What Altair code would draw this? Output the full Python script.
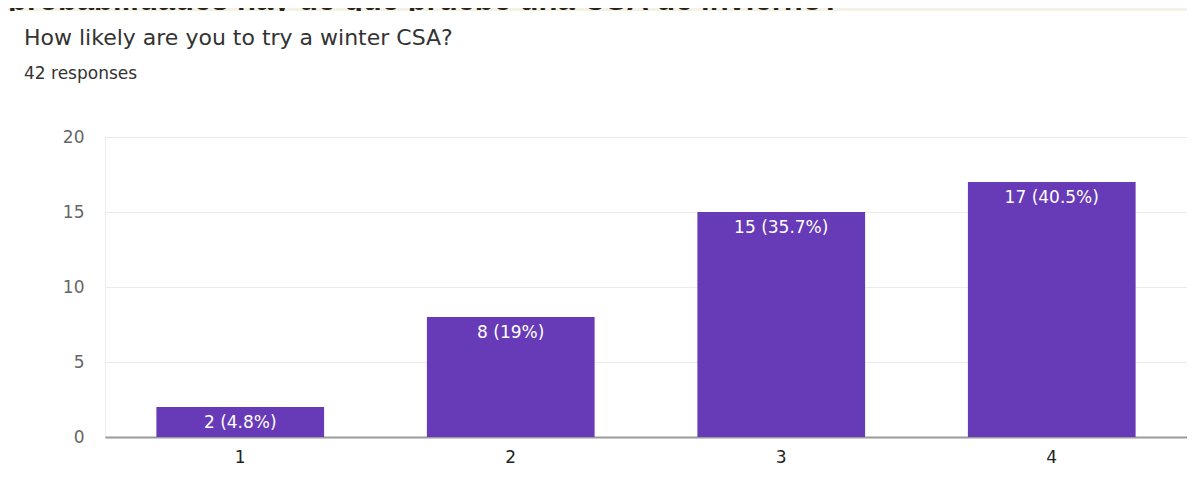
import altair as alt
import pandas as pd

categories = ["1", "2", "3", "4"]
counts = [2, 8, 15, 17]
bar_labels = ["2 (4.8%)", "8 (19%)", "15 (35.7%)", "17 (40.5%)"]
y_ticks = [0, 2.5, 5, 7.5, 10, 12.5, 15, 17.5, 20]
question_es = ["probabilidades hay de que pruebe una CSA de invierno?"]
title_text = ["How likely are you to try a winter CSA?"]
subtitle_text = ["42 responses"]

df = pd.DataFrame({"cat": categories, "count": counts, "label": bar_labels})
hdr = pd.DataFrame({"t": question_es})
ttl = pd.DataFrame({"t": title_text})
sub = pd.DataFrame({"t": subtitle_text})

PURPLE = "#673ab7"
BEIGE = "#f4f1e6"
FONT = "DejaVu Sans"
W, H = 1082, 300
PL, PT, PR, PB = 97, 129, 0, 30

x_enc = alt.X(
    "cat:N",
    sort=categories,
    scale=alt.Scale(paddingInner=0.38, paddingOuter=0.19),
    axis=alt.Axis(
        title=None, labelAngle=0, ticks=False, domain=True,
        domainColor="#9a9a9a", domainWidth=2, labelPadding=12,
        labelFont=FONT, labelFontSize=17, labelColor="#222222", grid=False,
    ),
)
y_enc = alt.Y(
    "count:Q",
    scale=alt.Scale(domain=[0, 20], nice=False),
    axis=alt.Axis(
        title=None, values=y_ticks, ticks=False, domain=False,
        grid=True, gridColor="#ebebeb", gridWidth=1,
        labelExpr="datum.value % 5 === 0 ? datum.label : ''",
        labelFont=FONT, labelFontSize=17, labelColor="#666666", labelPadding=21,
    ),
)

bars = alt.Chart(df).mark_bar(color=PURPLE).encode(x=x_enc, y=y_enc)
texts = alt.Chart(df).mark_text(
    color="white", font=FONT, fontSize=17, baseline="middle", dy=16
).encode(x=alt.X("cat:N", sort=categories), y=alt.Y("count:Q"), text="label:N")

# page background pieces (beige strips of the original screenshot)
top_band = alt.Chart(hdr).mark_rect(color=BEIGE, clip=False).encode(
    x=alt.value(-PL - 8), x2=alt.value(W + PR + 8), y=alt.value(-PT - 8), y2=alt.value(-PT + 3)
)
left_band = alt.Chart(hdr).mark_rect(color=BEIGE, clip=False).encode(
    x=alt.value(-PL - 8), x2=alt.value(-PL - 0.5), y=alt.value(-PT - 8), y2=alt.value(H + PB + 8)
)
header_text = alt.Chart(hdr).mark_text(
    font="Liberation Sans", fontWeight="bold", fontSize=31, color="#2b2218",
    align="left", baseline="alphabetic",
).encode(x=alt.value(-PL), y=alt.value(-PT + 1.5), text="t:N")
header_cover = alt.Chart(hdr).mark_rect(color="white").encode(
    x=alt.value(-PL - 0.5), x2=alt.value(W + PR + 8), y=alt.value(-PT + 3), y2=alt.value(-PT + 16)
)
title = alt.Chart(ttl).mark_text(
    font=FONT, fontSize=22, color="#333333", align="left", baseline="alphabetic"
).encode(x=alt.value(-81), y=alt.value(-92.5), text="t:N")
subtitle = alt.Chart(sub).mark_text(
    font=FONT, fontSize=17, color="#333333", align="left", baseline="alphabetic"
).encode(x=alt.value(-81), y=alt.value(-58), text="t:N")

chart = alt.layer(
    top_band, header_text, header_cover, title, subtitle, bars, texts, left_band
).properties(
    width=W,
    height=H,
    padding={"left": PL, "top": PT, "right": PR, "bottom": PB},
    autosize=alt.AutoSizeParams(type="none"),
).configure_view(stroke="#eeeeee")

chart.save("out.html", embed_options={"renderer": "svg", "actions": False})
